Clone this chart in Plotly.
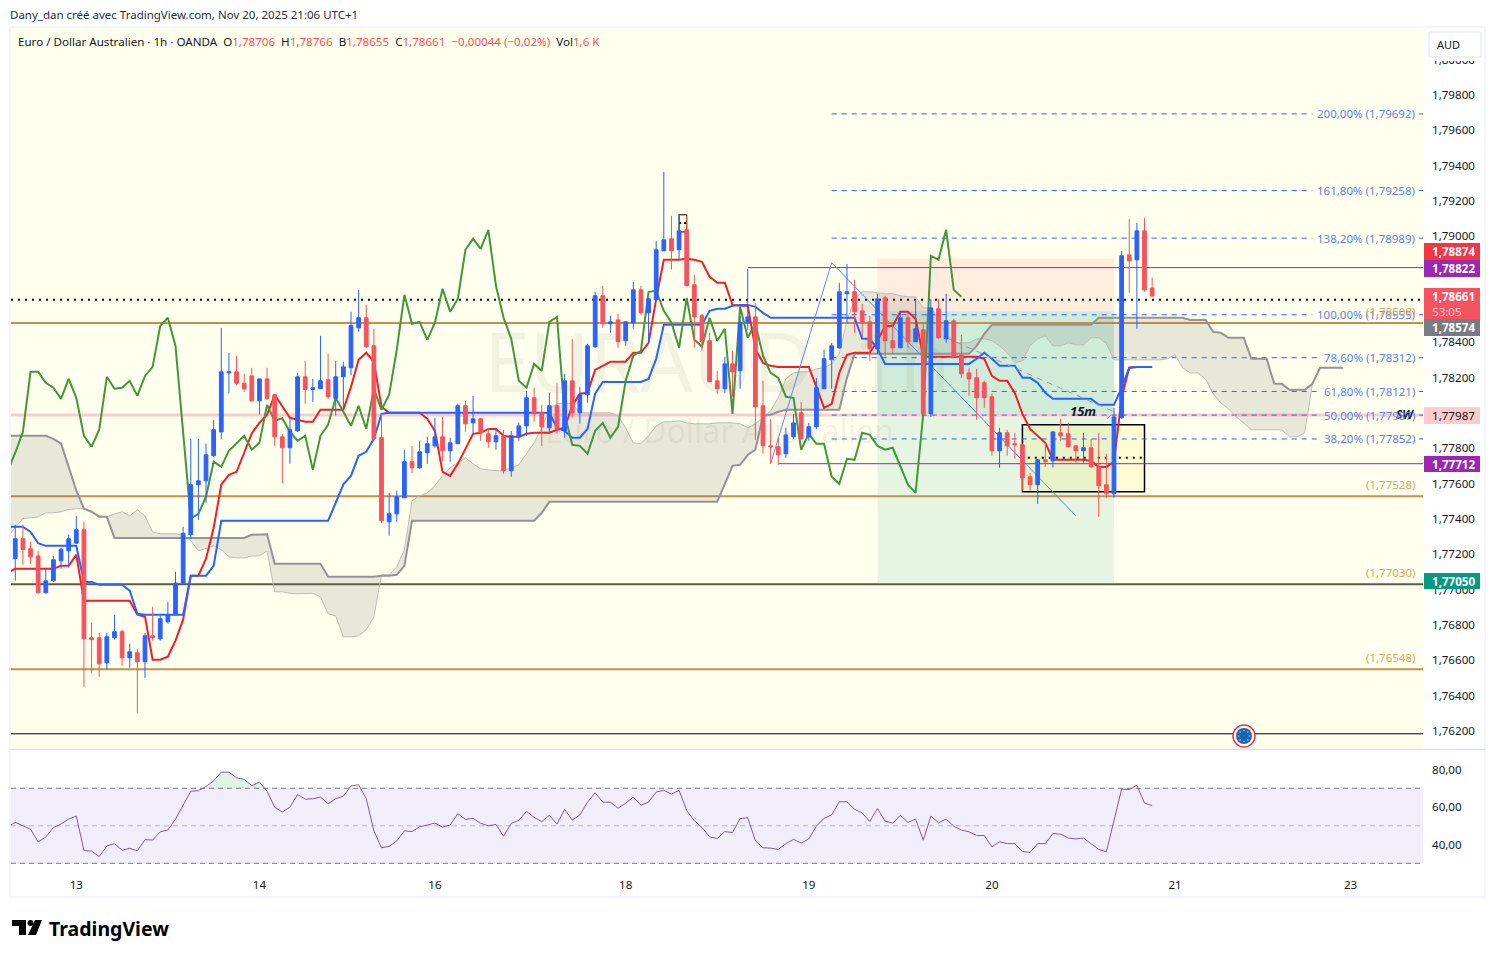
import math
import plotly.graph_objects as go

# page size in px, overlays below are placed from these
W = 1495
H = 958
FONT = "Noto Sans"

# candles, one per hour
open_ = [
    1.77176, 1.77287, 1.77230, 1.77190, 1.76982, 1.77049, 1.77162, 1.77219, 1.77262, 1.77338,
    1.76727, 1.76727, 1.76585, 1.76727, 1.76761, 1.76613, 1.76642, 1.76591, 1.76738, 1.76721,
    1.76817, 1.76857, 1.77036, 1.77310, 1.77593, 1.77615, 1.77757, 1.77892, 1.78226, 1.78232,
    1.78167, 1.78209, 1.78068, 1.78192, 1.78102, 1.77864, 1.77802, 1.77898, 1.78204, 1.78132,
    1.78136, 1.78187, 1.78082, 1.78204, 1.78255, 1.78481, 1.78538, 1.78379, 1.77859, 1.77383,
    1.77428, 1.77519, 1.77723, 1.77689, 1.77774, 1.77813, 1.77864, 1.77785, 1.77825, 1.78040,
    1.77943, 1.77966, 1.77881, 1.77836, 1.77870, 1.77672, 1.77864, 1.77926, 1.78085, 1.78000,
    1.77915, 1.78040, 1.77898, 1.78181, 1.78000, 1.78102, 1.78374, 1.78663, 1.78504, 1.78526,
    1.78408, 1.78510, 1.78696, 1.78566, 1.78640, 1.78917, 1.78985, 1.78923, 1.79036, 1.78725,
    1.78549, 1.78408, 1.78181, 1.78136, 1.78277, 1.78238, 1.78510, 1.78543, 1.78040, 1.77813,
    1.77808, 1.77768, 1.77864, 1.78000, 1.77864, 1.77921, 1.78136, 1.78300, 1.78368, 1.78674,
    1.78685, 1.78577, 1.78515, 1.78362, 1.78651, 1.78408, 1.78368, 1.78538, 1.78402, 1.78470,
    1.77994, 1.78589, 1.78419, 1.78521, 1.78328, 1.78226, 1.78198, 1.78170, 1.78091, 1.77785,
    1.77887, 1.77825, 1.77819, 1.77638, 1.77593, 1.77734, 1.77728, 1.77887, 1.77881, 1.77813,
    1.77785, 1.77802, 1.77694, 1.77593, 1.77542, 1.77972, 1.78894, 1.78866, 1.79030, 1.78706,
]
high = [
    1.77366, 1.77366, 1.77270, 1.77219, 1.77123, 1.77190, 1.77236, 1.77310, 1.77417, 1.77383,
    1.76812, 1.76755, 1.76755, 1.76857, 1.76772, 1.76693, 1.76664, 1.76755, 1.76902, 1.76851,
    1.76930, 1.77100, 1.77355, 1.77853, 1.77853, 1.77825, 1.77960, 1.78481, 1.78340, 1.78323,
    1.78221, 1.78255, 1.78192, 1.78255, 1.78102, 1.77881, 1.77966, 1.78226, 1.78294, 1.78192,
    1.78436, 1.78334, 1.78294, 1.78289, 1.78572, 1.78696, 1.78612, 1.78476, 1.77994, 1.77547,
    1.77559, 1.77791, 1.77813, 1.77842, 1.77864, 1.77972, 1.77977, 1.77859, 1.78051, 1.78068,
    1.78096, 1.77972, 1.77915, 1.77915, 1.77904, 1.77898, 1.77943, 1.78125, 1.78142, 1.78045,
    1.78113, 1.78170, 1.78221, 1.78419, 1.78147, 1.78391, 1.78685, 1.78719, 1.78549, 1.78560,
    1.78521, 1.78742, 1.78719, 1.78645, 1.78974, 1.79364, 1.79115, 1.79126, 1.79115, 1.78781,
    1.78560, 1.78453, 1.78238, 1.78317, 1.78351, 1.78549, 1.78815, 1.78623, 1.78181, 1.77966,
    1.77859, 1.77915, 1.77994, 1.78062, 1.77943, 1.78198, 1.78357, 1.78396, 1.78736, 1.78843,
    1.78753, 1.78617, 1.78549, 1.78674, 1.78662, 1.78492, 1.78577, 1.78566, 1.78640, 1.78510,
    1.78645, 1.78645, 1.78674, 1.78532, 1.78442, 1.78255, 1.78249, 1.78181, 1.78108, 1.77915,
    1.77904, 1.77887, 1.77819, 1.77660, 1.77740, 1.77830, 1.77898, 1.77966, 1.77943, 1.77819,
    1.77887, 1.77853, 1.77887, 1.77768, 1.78028, 1.78917, 1.79098, 1.79075, 1.79104, 1.78766,
]
low = [
    1.77049, 1.77140, 1.77145, 1.76976, 1.76976, 1.77043, 1.77117, 1.77123, 1.77259, 1.76449,
    1.76528, 1.76506, 1.76545, 1.76716, 1.76568, 1.76557, 1.76302, 1.76500, 1.76710, 1.76710,
    1.76806, 1.76857, 1.77027, 1.77284, 1.77394, 1.77491, 1.77751, 1.77853, 1.78110, 1.78158,
    1.78119, 1.78062, 1.77991, 1.78074, 1.77813, 1.77601, 1.77711, 1.77892, 1.78051, 1.78062,
    1.78136, 1.78079, 1.77985, 1.78028, 1.78212, 1.78459, 1.78368, 1.77853, 1.77375, 1.77304,
    1.77383, 1.77519, 1.77660, 1.77683, 1.77711, 1.77802, 1.77728, 1.77723, 1.77825, 1.77892,
    1.77887, 1.77842, 1.77802, 1.77791, 1.77655, 1.77638, 1.77842, 1.77870, 1.77949, 1.77813,
    1.77887, 1.77881, 1.77859, 1.77972, 1.77938, 1.78057, 1.78368, 1.78481, 1.78453, 1.78368,
    1.78379, 1.78476, 1.78555, 1.78396, 1.78634, 1.78917, 1.78810, 1.78872, 1.78719, 1.78368,
    1.78351, 1.78176, 1.78108, 1.78113, 1.78091, 1.78136, 1.78470, 1.77847, 1.77768, 1.77711,
    1.77706, 1.77745, 1.77853, 1.77847, 1.77842, 1.77909, 1.78136, 1.78136, 1.78362, 1.78504,
    1.78453, 1.78425, 1.78294, 1.78334, 1.78317, 1.78334, 1.78368, 1.78368, 1.78402, 1.77994,
    1.77977, 1.78419, 1.78396, 1.78311, 1.78198, 1.78096, 1.77960, 1.78028, 1.77757, 1.77689,
    1.77757, 1.77740, 1.77559, 1.77559, 1.77485, 1.77694, 1.77689, 1.77842, 1.77808, 1.77711,
    1.77717, 1.77689, 1.77411, 1.77519, 1.77519, 1.77966, 1.78679, 1.78476, 1.78685, 1.78655,
]
close = [
    1.77287, 1.77227, 1.77185, 1.76982, 1.77049, 1.77168, 1.77227, 1.77287, 1.77338, 1.76721,
    1.76716, 1.76579, 1.76732, 1.76761, 1.76613, 1.76647, 1.76591, 1.76738, 1.76727, 1.76834,
    1.76857, 1.77036, 1.77318, 1.77593, 1.77615, 1.77762, 1.77904, 1.78232, 1.78232, 1.78167,
    1.78136, 1.78068, 1.78192, 1.78082, 1.77864, 1.77802, 1.77904, 1.78204, 1.78132, 1.78142,
    1.78181, 1.78091, 1.78204, 1.78260, 1.78494, 1.78538, 1.78374, 1.77853, 1.77389, 1.77428,
    1.77525, 1.77723, 1.77689, 1.77779, 1.77825, 1.77864, 1.77785, 1.77830, 1.78040, 1.77938,
    1.77966, 1.77887, 1.77836, 1.77870, 1.77672, 1.77870, 1.77926, 1.78085, 1.77994, 1.77921,
    1.78040, 1.77909, 1.78181, 1.78000, 1.78102, 1.78379, 1.78663, 1.78504, 1.78515, 1.78402,
    1.78515, 1.78696, 1.78566, 1.78645, 1.78923, 1.78979, 1.78917, 1.79030, 1.78719, 1.78543,
    1.78402, 1.78176, 1.78136, 1.78277, 1.78232, 1.78510, 1.78543, 1.78034, 1.77813, 1.77808,
    1.77762, 1.77875, 1.77943, 1.77853, 1.77921, 1.78142, 1.78306, 1.78379, 1.78685, 1.78685,
    1.78572, 1.78510, 1.78362, 1.78645, 1.78408, 1.78368, 1.78538, 1.78402, 1.78476, 1.77994,
    1.78594, 1.78425, 1.78521, 1.78317, 1.78221, 1.78192, 1.78085, 1.78085, 1.77785, 1.77887,
    1.77813, 1.77819, 1.77632, 1.77593, 1.77734, 1.77723, 1.77892, 1.77870, 1.77808, 1.77785,
    1.77802, 1.77694, 1.77587, 1.77542, 1.77977, 1.78889, 1.78860, 1.79030, 1.78696, 1.78661,
]

# indicator lines, first value sits one bar before the first candle
tenkan = [
    1.77095, 1.77117, 1.77117, 1.77117, 1.77117, 1.77117, 1.77117, 1.77134, 1.77134, 1.77196,
    1.76936, 1.76936, 1.76936, 1.76936, 1.76936, 1.76936, 1.76936, 1.76857, 1.76846, 1.76602,
    1.76602, 1.76619, 1.76710, 1.76829, 1.77078, 1.77078, 1.77174, 1.77349, 1.77593, 1.77649,
    1.77666, 1.77774, 1.77884, 1.77943, 1.77989, 1.78102, 1.78034, 1.77972, 1.77960, 1.77949,
    1.77949, 1.78017, 1.78017, 1.78017, 1.78017, 1.78147, 1.78300, 1.78340, 1.78289, 1.78034,
    1.78000, 1.78000, 1.78000, 1.78000, 1.78000, 1.77966, 1.77898, 1.77666, 1.77643, 1.77711,
    1.77796, 1.77881, 1.77887, 1.77909, 1.77909, 1.77870, 1.77864, 1.77864, 1.77881, 1.77887,
    1.77887, 1.77887, 1.77904, 1.77915, 1.78040, 1.78108, 1.78113, 1.78243, 1.78266, 1.78289,
    1.78289, 1.78289, 1.78340, 1.78340, 1.78396, 1.78645, 1.78866, 1.78866, 1.78866, 1.78872,
    1.78866, 1.78855, 1.78770, 1.78736, 1.78736, 1.78611, 1.78606, 1.78606, 1.78362, 1.78283,
    1.78266, 1.78260, 1.78260, 1.78260, 1.78260, 1.78260, 1.78147, 1.78028, 1.78051, 1.78226,
    1.78328, 1.78340, 1.78340, 1.78340, 1.78408, 1.78492, 1.78492, 1.78572, 1.78572, 1.78532,
    1.78317, 1.78317, 1.78317, 1.78317, 1.78317, 1.78317, 1.78317, 1.78317, 1.78306, 1.78209,
    1.78181, 1.78181, 1.78113, 1.77994, 1.77909, 1.77870, 1.77830, 1.77734, 1.77734, 1.77734,
    1.77734, 1.77734, 1.77728, 1.77694, 1.77694, 1.77723, 1.78085, 1.78255, 1.78260, 1.78260,
    1.78260,
]
kijun = [
    1.77355, 1.77355, 1.77355, 1.77326, 1.77262, 1.77247, 1.77247, 1.77247, 1.77247, 1.77247,
    1.77043, 1.77043, 1.77027, 1.77027, 1.77027, 1.77027, 1.76993, 1.76862, 1.76857, 1.76857,
    1.76857, 1.76857, 1.76857, 1.76857, 1.77078, 1.77078, 1.77078, 1.77134, 1.77389, 1.77389,
    1.77389, 1.77389, 1.77389, 1.77389, 1.77389, 1.77389, 1.77389, 1.77389, 1.77389, 1.77389,
    1.77389, 1.77389, 1.77389, 1.77491, 1.77595, 1.77643, 1.77757, 1.77779, 1.77853, 1.77994,
    1.78000, 1.78000, 1.78000, 1.78000, 1.78000, 1.78000, 1.78000, 1.78000, 1.78000, 1.78000,
    1.78000, 1.78000, 1.78000, 1.78000, 1.78000, 1.78000, 1.78000, 1.78000, 1.78000, 1.78000,
    1.78000, 1.78000, 1.77915, 1.77898, 1.77859, 1.77859, 1.77909, 1.78108, 1.78175, 1.78175,
    1.78175, 1.78175, 1.78175, 1.78175, 1.78192, 1.78306, 1.78498, 1.78498, 1.78498, 1.78498,
    1.78498, 1.78498, 1.78577, 1.78589, 1.78589, 1.78606, 1.78611, 1.78611, 1.78600, 1.78566,
    1.78538, 1.78538, 1.78538, 1.78538, 1.78538, 1.78538, 1.78538, 1.78538, 1.78538, 1.78538,
    1.78538, 1.78538, 1.78419, 1.78419, 1.78362, 1.78277, 1.78277, 1.78277, 1.78277, 1.78277,
    1.78277, 1.78277, 1.78277, 1.78277, 1.78277, 1.78277, 1.78277, 1.78306, 1.78340, 1.78306,
    1.78266, 1.78266, 1.78266, 1.78198, 1.78198, 1.78170, 1.78113, 1.78079, 1.78079, 1.78079,
    1.78079, 1.78079, 1.78079, 1.78045, 1.78045, 1.78045, 1.78142, 1.78255, 1.78260, 1.78260,
    1.78260,
]
chikou = [
    1.77672, 1.77774, 1.77892, 1.78232, 1.78232, 1.78170, 1.78142, 1.78079, 1.78192, 1.78085,
    1.77870, 1.77808, 1.77904, 1.78204, 1.78136, 1.78142, 1.78181, 1.78096, 1.78209, 1.78260,
    1.78492, 1.78538, 1.78379, 1.77875, 1.77402, 1.77428, 1.77525, 1.77723, 1.77694, 1.77785,
    1.77830, 1.77870, 1.77791, 1.77830, 1.78045, 1.77955, 1.77969, 1.77892, 1.77842, 1.77870,
    1.77677, 1.77870, 1.77932, 1.78085, 1.78006, 1.77926, 1.78040, 1.77909, 1.78136, 1.78017,
    1.78102, 1.78357, 1.78668, 1.78504, 1.78515, 1.78413, 1.78510, 1.78702, 1.78572, 1.78645,
    1.78923, 1.78985, 1.78928, 1.79036, 1.78719, 1.78538, 1.78419, 1.78181, 1.78142, 1.78277,
    1.78238, 1.78515, 1.78543, 1.77994, 1.77819, 1.77813, 1.77768, 1.77898, 1.77943, 1.77859,
    1.77921, 1.78181, 1.78323, 1.78351, 1.78685, 1.78691, 1.78577, 1.78510, 1.78368, 1.78651,
    1.78413, 1.78374, 1.78538, 1.78408, 1.78476, 1.77994, 1.78600, 1.78425, 1.78504, 1.78323,
    1.78226, 1.78198, 1.78091, 1.78085, 1.77791, 1.77881, 1.77825, 1.77825, 1.77638, 1.77598,
    1.77740, 1.77734, 1.77887, 1.77875, 1.77813, 1.77791, 1.77802, 1.77700, 1.77593, 1.77547,
    1.77994, 1.78889, 1.78866, 1.79036, 1.78696, 1.78657,
]
senkou_a = [
    1.77298, 1.77349, 1.77402, 1.77405, 1.77411, 1.77434, 1.77434, 1.77440, 1.77453, 1.77457,
    1.77457, 1.77440, 1.77417, 1.77411, 1.77428, 1.77440, 1.77417, 1.77451, 1.77417, 1.77326,
    1.77315, 1.77315, 1.77315, 1.77310, 1.77276, 1.77219, 1.77233, 1.77247, 1.77225, 1.77185,
    1.77179, 1.77179, 1.77190, 1.77190, 1.77219, 1.76987, 1.76987, 1.76978, 1.76976, 1.76978,
    1.76978, 1.76959, 1.76862, 1.76851, 1.76732, 1.76732, 1.76738, 1.76772, 1.76846, 1.77083,
    1.77083, 1.77128, 1.77225, 1.77502, 1.77530, 1.77547, 1.77587, 1.77643, 1.77689, 1.77717,
    1.77745, 1.77711, 1.77683, 1.77677, 1.77672, 1.77672, 1.77689, 1.77706, 1.77768, 1.77830,
    1.77915, 1.78023, 1.78051, 1.78057, 1.78051, 1.78000, 1.78000, 1.78000, 1.78000, 1.78000,
    1.77983, 1.77915, 1.77830, 1.77825, 1.77870, 1.77926, 1.77949, 1.77949, 1.77955, 1.77943,
    1.77938, 1.77938, 1.77938, 1.77943, 1.77943, 1.77943, 1.77938, 1.77915, 1.77938, 1.77972,
    1.78011, 1.78085, 1.78192, 1.78226, 1.78232, 1.78232, 1.78249, 1.78255, 1.78277, 1.78334,
    1.78521, 1.78645, 1.78685, 1.78685, 1.78679, 1.78674, 1.78674, 1.78662, 1.78657, 1.78657,
    1.78594, 1.78594, 1.78532, 1.78447, 1.78396, 1.78396, 1.78396, 1.78419, 1.78419, 1.78408,
    1.78379, 1.78340, 1.78283, 1.78294, 1.78379, 1.78419, 1.78436, 1.78379, 1.78379, 1.78396,
    1.78385, 1.78385, 1.78425, 1.78425, 1.78391, 1.78300, 1.78300, 1.78300, 1.78300, 1.78300,
    1.78300, 1.78300, 1.78306, 1.78328, 1.78255, 1.78226, 1.78226, 1.78192, 1.78108, 1.78057,
    1.78023, 1.77977, 1.77943, 1.77904, 1.77904, 1.77904, 1.77904, 1.77904, 1.77864, 1.77864,
    1.77887, 1.78164, 1.78255, 1.78255, 1.78255, 1.78255,
]
senkou_b = [
    1.77870, 1.77870, 1.77870, 1.77870, 1.77870, 1.77870, 1.77853, 1.77825, 1.77694, 1.77559,
    1.77457, 1.77440, 1.77411, 1.77411, 1.77292, 1.77292, 1.77292, 1.77292, 1.77292, 1.77292,
    1.77292, 1.77292, 1.77292, 1.77292, 1.77292, 1.77292, 1.77292, 1.77292, 1.77292, 1.77292,
    1.77292, 1.77292, 1.77310, 1.77312, 1.77312, 1.77145, 1.77145, 1.77145, 1.77145, 1.77145,
    1.77145, 1.77145, 1.77072, 1.77072, 1.77072, 1.77072, 1.77072, 1.77072, 1.77072, 1.77078,
    1.77078, 1.77083, 1.77134, 1.77389, 1.77389, 1.77389, 1.77389, 1.77389, 1.77389, 1.77389,
    1.77389, 1.77389, 1.77389, 1.77389, 1.77389, 1.77389, 1.77389, 1.77389, 1.77389, 1.77389,
    1.77434, 1.77496, 1.77496, 1.77496, 1.77496, 1.77496, 1.77496, 1.77496, 1.77496, 1.77496,
    1.77496, 1.77496, 1.77496, 1.77496, 1.77496, 1.77496, 1.77496, 1.77496, 1.77496, 1.77496,
    1.77496, 1.77496, 1.77496, 1.77496, 1.77598, 1.77700, 1.77706, 1.77762, 1.77791, 1.77983,
    1.77989, 1.78006, 1.78017, 1.78017, 1.78017, 1.78017, 1.78017, 1.78017, 1.78017, 1.78017,
    1.78198, 1.78334, 1.78334, 1.78334, 1.78334, 1.78334, 1.78334, 1.78334, 1.78334, 1.78334,
    1.78334, 1.78334, 1.78334, 1.78334, 1.78334, 1.78334, 1.78334, 1.78379, 1.78447, 1.78498,
    1.78498, 1.78498, 1.78498, 1.78498, 1.78498, 1.78498, 1.78498, 1.78498, 1.78498, 1.78498,
    1.78498, 1.78498, 1.78498, 1.78538, 1.78538, 1.78538, 1.78538, 1.78538, 1.78538, 1.78538,
    1.78538, 1.78538, 1.78538, 1.78538, 1.78538, 1.78526, 1.78526, 1.78526, 1.78458, 1.78453,
    1.78425, 1.78425, 1.78425, 1.78306, 1.78306, 1.78306, 1.78164, 1.78164, 1.78130, 1.78130,
    1.78130, 1.78164, 1.78255, 1.78255, 1.78255, 1.78255,
]
rsi = [
    49.5, 51.8, 50.0, 48.2, 41.4, 44.0, 49.0, 51.0, 53.6, 55.2,
    36.8, 36.5, 33.6, 39.2, 40.5, 37.0, 38.0, 36.7, 42.6, 42.4,
    46.8, 47.7, 53.6, 61.0, 68.4, 68.7, 71.0, 73.9, 78.6, 78.6,
    75.6, 74.7, 71.4, 73.3, 68.4, 59.9, 57.4, 59.9, 66.7, 64.2,
    64.4, 65.3, 61.7, 64.4, 65.8, 71.2, 71.9, 64.4, 47.3, 38.3,
    39.0, 41.9, 47.3, 46.9, 49.5, 50.4, 51.4, 49.3, 50.4, 56.5,
    53.4, 54.0, 51.3, 50.0, 50.7, 44.4, 51.3, 52.9, 57.7, 54.5,
    52.2, 55.6, 50.9, 58.8, 53.0, 55.8, 62.6, 67.6, 62.6, 62.6,
    59.4, 62.0, 65.3, 61.0, 62.6, 68.0, 68.9, 66.9, 68.9, 58.1,
    52.7, 49.1, 44.1, 43.2, 46.9, 46.4, 53.8, 54.3, 42.0, 38.3,
    38.1, 37.4, 40.5, 42.8, 40.8, 43.0, 49.8, 54.0, 55.8, 62.8,
    62.8, 58.8, 56.8, 52.3, 59.2, 52.5, 51.4, 55.6, 51.8, 53.6,
    42.3, 55.2, 51.6, 53.6, 49.8, 47.7, 46.8, 44.8, 44.8, 38.8,
    41.5, 40.5, 40.5, 36.3, 35.8, 40.5, 40.5, 45.9, 45.5, 43.5,
    43.0, 43.5, 40.3, 37.4, 36.1, 52.5, 69.6, 69.3, 71.6, 62.1,
    60.8,
]

# axis ticks
date_ticks = [8, 32, 55, 80, 104, 128, 152, 175]
date_labels = ["13", "14", "16", "18", "19", "20", "21", "23"]
price_ticks = [1.762, 1.764, 1.766, 1.768, 1.770, 1.772, 1.774, 1.776, 1.778, 1.780,
               1.782, 1.784, 1.786, 1.788, 1.790, 1.792, 1.794, 1.796, 1.798, 1.800]
price_labels = [f"{p:.5f}".replace(".", ",") for p in price_ticks]
rsi_ticks = [40, 60, 80]
rsi_labels = ["40,00", "60,00", "80,00"]

# drawn levels
orange_levels = [1.78508, 1.77528, 1.76548]
orange_labels = ["(1,78508)", "(1,77528)", "(1,76548)"]
fib_prices = [1.79692, 1.79258, 1.78989, 1.78555, 1.78312, 1.78121, 1.77987, 1.77852]
fib_labels = ["200,00% (1,79692)", "161,80% (1,79258)", "138,20% (1,78989)", "100,00% (1,78555)",
              "78,60% (1,78312)", "61,80% (1,78121)", "50,00% (1,77987)", "38,20% (1,77852)"]
fib_ends = [170, 170, 170, 170, 171, 171, 171, 171]
zigzag_x = [99, 107, 139]
zigzag_y = [1.77712, 1.78850, 1.77417]
swing_x = [122, 144, 143]
swing_y = [1.78425, 1.78006, 1.77960]

X_MIN = -0.56
X_MAX = 184.5
PRICE_RANGE = [1.76097, 1.80184]


def px(x):
    return x / W


def py(y):
    return 1 - y / H


def level(y, x0=X_MIN, x1=X_MAX, color="#000", width=1, dash="solid"):
    return dict(type="line", xref="x", yref="y", x0=x0, x1=x1, y0=y, y1=y,
                line=dict(color=color, width=width, dash=dash), layer="below")


def zone(x0, x1, y0, y1, fill, line_color=None, width=0):
    return dict(type="rect", xref="x", yref="y", x0=x0, x1=x1, y0=y0, y1=y1, fillcolor=fill,
                line=dict(color=line_color or "rgba(0,0,0,0)", width=width), layer="below")


def paper_rect(x0, y0, x1, y1, fill, line_color=None, width=0, layer="above", kind="rect"):
    return dict(type=kind, xref="paper", yref="paper", x0=px(x0), x1=px(x1), y0=py(y0), y1=py(y1),
                fillcolor=fill, line=dict(color=line_color or "rgba(0,0,0,0)", width=width), layer=layer)


def note(x, y, text, size=12, color="#131722", anchor="left"):
    return dict(xref="paper", yref="paper", x=px(x), y=py(y), text=text, showarrow=False, xanchor=anchor,
                yanchor="middle", align="left", font=dict(family=FONT, size=size, color=color))


fig = go.Figure()

bars = list(range(len(open_)))
line_x = list(range(-1, 150))

# cloud
cloud_x = list(range(-1, 175))
fig.add_trace(go.Scatter(x=cloud_x, y=senkou_a, mode="lines", line=dict(color="#bdbdb6", width=1), hoverinfo="skip"))
fig.add_trace(go.Scatter(x=cloud_x, y=senkou_b, mode="lines", line=dict(color="#949490", width=2), hoverinfo="skip",
                         fill="tonexty", fillcolor="rgba(115,115,115,0.16)"))

# tenkan, kijun, lagging span
fig.add_trace(go.Scatter(x=line_x, y=tenkan, mode="lines", line=dict(color="#f01e2c", width=2), hoverinfo="skip"))
fig.add_trace(go.Scatter(x=line_x, y=kijun, mode="lines", line=dict(color="#2962ff", width=2), hoverinfo="skip"))
fig.add_trace(go.Scatter(x=line_x[:len(chikou)], y=chikou, mode="lines", line=dict(color="#43953f", width=2), hoverinfo="skip"))

# hand drawn lines
fig.add_trace(go.Scatter(x=zigzag_x, y=zigzag_y, mode="lines", line=dict(color="#5b8ce8", width=1), hoverinfo="skip"))
fig.add_trace(go.Scatter(x=swing_x, y=swing_y, mode="lines", line=dict(color="#9a9c9e", width=1, dash="6px,5px"), hoverinfo="skip"))

# candles go on an overlay axis pair so they stay above the lines
fig.add_trace(go.Candlestick(
    x=bars, open=open_, high=high, low=low, close=close, xaxis="x3", yaxis="y3",
    increasing=dict(line=dict(color="#2962ff", width=1), fillcolor="#2962ff"),
    decreasing=dict(line=dict(color="#f7525f", width=1), fillcolor="#f7525f"),
    whiskerwidth=0, hoverinfo="skip",
))

# rsi pane
fig.add_trace(go.Scatter(x=line_x[24:37], y=[70] * 13, mode="lines", line=dict(width=0), yaxis="y2", hoverinfo="skip"))
fig.add_trace(go.Scatter(x=line_x[24:37], y=[max(v, 70) for v in rsi[24:37]], mode="lines", line=dict(width=0), yaxis="y2",
                         fill="tonexty", fillcolor="rgba(76,175,80,0.16)", hoverinfo="skip"))
fig.add_trace(go.Scatter(x=line_x, y=rsi, mode="lines", line=dict(color="#7e57c2", width=1), yaxis="y2", hoverinfo="skip"))

shapes = [
    paper_rect(11, 27, 1423, 749, "#ffffee", layer="below"),
    paper_rect(11, 750, 1423, 871, "#ffffff", layer="below"),
]
# short position tool
shapes.append(zone(113, 144, 1.78574, 1.78874, "rgba(250,150,138,0.18)"))
shapes.append(zone(113, 144, 1.77038, 1.78574, "rgba(8,153,129,0.10)"))
shapes.append(zone(113, 144, 1.77987, 1.78574, "rgba(8,153,129,0.10)"))
# marked boxes
shapes.append(zone(132, 148, 1.77553, 1.77932, "rgba(255,235,59,0.15)", "#000", 1.5))
shapes.append(zone(87, 88, 1.79024, 1.79121, "rgba(255,235,59,0.15)", "#000", 1))
shapes.append(level(1.77745, 132.7, 148, width=2, dash="2px,5px"))
shapes.append(level(1.79074, 87, 88, width=2, dash="2px,3px"))
# horizontal levels
shapes.append(level(1.78640, width=2, dash="2px,5px"))
shapes.append(level(1.77987, color="#fccbcd", width=3))
shapes.append(level(1.77030, color="#5c5c45", width=2))
shapes.append(level(1.76183, color="#000", width=1))
for value in orange_levels:
    shapes.append(level(value, color="#c68f4c", width=2))
shapes.append(level(1.78822, 96, X_MAX, color="#9c27b0", width=1))
shapes.append(level(1.77712, 100, X_MAX, color="#9c27b0", width=1))
for value, end in zip(fib_prices, fib_ends):
    shapes.append(level(value, 107, end, color="#2962ff", width=1, dash="5px,5px"))
    shapes.append(level(value, 184, X_MAX, color="#2962ff", width=1))

# rsi band
shapes.append(dict(type="rect", xref="paper", yref="y2", x0=px(11), x1=px(1423), y0=30, y1=70,
                   fillcolor="rgba(126,87,194,0.1)", line=dict(width=0), layer="below"))
for value, color in [(70, "#787b86"), (30, "#787b86"), (50, "#b8b6c2")]:
    shapes.append(dict(type="line", xref="paper", yref="y2", x0=px(11), x1=px(1423), y0=value, y1=value,
                       line=dict(color=color, width=1, dash="5px,4px"), layer="below"))

# frame and pane separator
shapes.append(paper_rect(10, 27, 1485, 897, "rgba(0,0,0,0)", "#f0f3fa", 1.5))
shapes.append(dict(type="line", xref="paper", yref="paper", x0=px(10), x1=px(1485), y0=py(749.5), y1=py(749.5),
                   line=dict(color="#e0e3eb", width=1.5)))

# AUD box, covers half of the top tick label
shapes.append(paper_rect(1424, 28, 1484, 61, "#ffffff"))
shapes.append(paper_rect(1429, 32, 1481, 57, "#ffffff", "#e0e3eb", 1))

# euro calendar marker
shapes.append(paper_rect(1233, 725, 1255, 747, "#ffffff", "#f23645", 1.5, kind="circle"))
shapes.append(paper_rect(1236, 728, 1252, 744, "#1565c0", kind="circle"))
for k in range(8):
    sx = 1244 + 5.5 * math.cos(k * math.pi / 4)
    sy = 736 + 5.5 * math.sin(k * math.pi / 4)
    shapes.append(paper_rect(sx - 0.8, sy - 0.8, sx + 0.8, sy + 0.8, "#ffd600", kind="circle"))

# price tags on the right scale
tags = [
    (243, 260, "#f23645", "<b>1,78874</b>", "#ffffff"),
    (260, 277, "#9c27b0", "<b>1,78822</b>", "#ffffff"),
    (288, 319, "#f7525f", "<b>1,78661</b><br><span style='color:#fcd0d3'>53:05</span>", "#ffffff"),
    (319, 336, "#787b86", "<b>1,78574</b>", "#ffffff"),
    (407, 424, "#fccbcd", "1,77987", "#131722"),
    (456, 472, "#9c27b0", "<b>1,77712</b>", "#ffffff"),
    (573, 589, "#089981", "<b>1,77050</b>", "#ffffff"),
]
annotations = []
for top, bottom, fill, label, text_color in tags:
    shapes.append(paper_rect(1424, top, 1480, bottom, fill))
    annotations.append(note(1430, (top + bottom) / 2, label, 11.6, text_color))

# TradingView mark
logo = (f"M {px(12)} {py(920)} L {px(26)} {py(920)} L {px(26)} {py(935)} L {px(19)} {py(935)} "
        f"L {px(19)} {py(926)} L {px(12)} {py(926)} Z "
        f"M {px(35)} {py(920)} L {px(42)} {py(920)} L {px(36)} {py(935)} L {px(28)} {py(935)} Z")
shapes.append(dict(type="path", xref="paper", yref="paper", path=logo, fillcolor="#000", line=dict(width=0)))
shapes.append(paper_rect(27.5, 920, 33.5, 926, "#000", kind="circle"))

annotations += [
    note(8, 15, "Dany_dan créé avec TradingView.com, Nov 20, 2025 21:06 UTC+1", 11.5, "#2a2e39"),
    note(16, 42, "Euro / Dollar Australien · 1h · OANDA&nbsp;&nbsp;O<span style='color:#f7525f'>1,78706</span>&nbsp;&nbsp;"
                 "H<span style='color:#f7525f'>1,78766</span>&nbsp;&nbsp;B<span style='color:#f7525f'>1,78655</span>&nbsp;&nbsp;"
                 "C<span style='color:#f7525f'>1,78661</span>&nbsp;&nbsp;<span style='color:#f7525f'>−0,00044 (−0,02%)</span>&nbsp;&nbsp;"
                 "Vol<span style='color:#f7525f'>1,6 K</span>", 11.6, "#131722"),
    note(1435, 44.5, "AUD", 11, "#131722"),
    note(47, 928, "<b>TradingView</b>", 19.5, "#000000"),
    note(717, 360, "EURAUD, 1h", 82, "rgba(120,123,100,0.10)", "center"),
    note(719, 431, "Euro / Dollar Australien", 32, "rgba(120,123,100,0.10)", "center"),
    note(1068, 411, "<b><i>15m</i></b>", 13, "#131722"),
    note(1394, 414, "<b><i>SW</i></b>", 12, "#131722"),
]
for value, label in zip(fib_prices, fib_labels):
    annotations.append(dict(xref="paper", yref="y", x=px(1417), y=value, text=label, showarrow=False, xanchor="right",
                            yanchor="middle", font=dict(family=FONT, size=11.5, color="#5b82e8")))
for value, label in zip(orange_levels + [1.77030], orange_labels + ["(1,77030)"]):
    annotations.append(dict(xref="paper", yref="y", x=px(1417), y=value, text=label, showarrow=False, xanchor="right",
                            yanchor="middle", yshift=12, font=dict(family=FONT, size=11.5, color="#d9a56a")))

tick_font = dict(family=FONT, size=11.6, color="#131722")
fig.update_layout(
    width=W,
    height=H,
    margin=dict(l=0, r=0, t=0, b=0),
    showlegend=False,
    paper_bgcolor="#ffffff",
    plot_bgcolor="rgba(0,0,0,0)",
    shapes=shapes,
    annotations=annotations,
    xaxis=dict(domain=[px(11), px(1423)], range=[X_MIN, X_MAX], anchor="y2", showgrid=False, zeroline=False,
               tickmode="array", tickvals=date_ticks, ticktext=date_labels, tickfont=tick_font, ticks="",
               ticklabelstandoff=5, showline=False, fixedrange=True),
    yaxis=dict(domain=[py(749), py(27)], range=PRICE_RANGE, side="right", anchor="x", showgrid=False,
               zeroline=False, tickmode="array", tickvals=price_ticks, ticktext=price_labels, tickfont=tick_font,
               ticks="", ticklabelstandoff=8, fixedrange=True),
    yaxis2=dict(domain=[py(871), py(750)], range=[25.9, 90.4], side="right", anchor="x", showgrid=False,
                zeroline=False, tickmode="array", tickvals=rsi_ticks, ticktext=rsi_labels, tickfont=tick_font,
                ticks="", ticklabelstandoff=8, fixedrange=True),
    xaxis3=dict(domain=[px(11), px(1423)], range=[X_MIN, X_MAX], overlaying="x", anchor="y3", visible=False,
                rangeslider=dict(visible=False), fixedrange=True),
    yaxis3=dict(domain=[py(749), py(27)], range=PRICE_RANGE, overlaying="y", anchor="x3", visible=False,
                fixedrange=True),
)

fig.write_html("out.html", config={"displayModeBar": False},
               post_script="document.body.style.margin='0';document.body.style.overflow='hidden';")
